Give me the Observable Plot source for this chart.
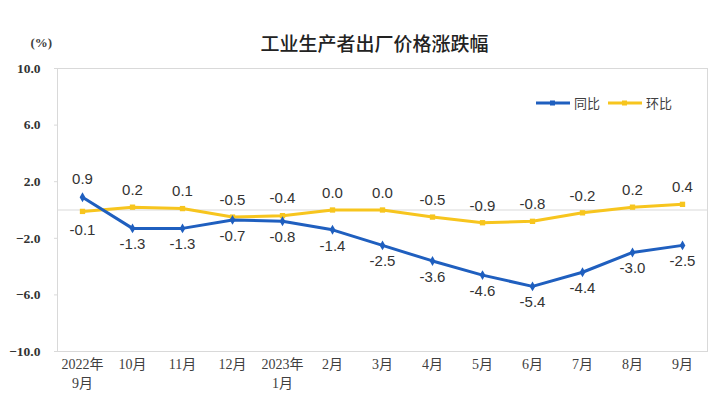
<!DOCTYPE html>
<html>
<head>
<meta charset="utf-8">
<script src="https://cdn.jsdelivr.net/npm/d3@7"></script>
<script src="https://cdn.jsdelivr.net/npm/@observablehq/plot@0.6"></script>
<style>
  html, body { margin: 0; padding: 0; background: #fff; }
  #wrap { position: relative; width: 712px; height: 413px; }
  #legend { position: absolute; left: 536px; top: 93px; font-family: "Noto Sans CJK SC", sans-serif; font-size: 13px; color: #404040; display: flex; align-items: center; }
  #legend span.item { display: flex; align-items: center; margin-right: 8px; }
  #legend svg { margin-right: 4px; }
</style>
</head>
<body>
<div id="wrap">
  <div id="legend"></div>
</div>
<script>
const months = ["2022年\n9月", "10月", "11月", "12月", "2023年\n1月", "2月", "3月", "4月", "5月", "6月", "7月", "8月", "9月"];
const yoy = [0.9, -1.3, -1.3, -0.7, -0.8, -1.4, -2.5, -3.6, -4.6, -5.4, -4.4, -3.0, -2.5];
const mom = [-0.1, 0.2, 0.1, -0.5, -0.4, 0.0, 0.0, -0.5, -0.9, -0.8, -0.2, 0.2, 0.4];
const yTicks = [10, 6, 2, -2, -6, -10];
const seriesNames = ["同比", "环比"];
const colors = ["#1f5fbf", "#f7c51e"];

const yoyData = months.map((m, i) => ({month: m, value: yoy[i]}));
const momData = months.map((m, i) => ({month: m, value: mom[i]}));
const yoyAbove = yoyData.filter((d, i) => i === 0);
const yoyBelow = yoyData.filter((d, i) => i !== 0);
const momBelow = momData.filter((d, i) => i === 0);
const momAbove = momData.filter((d, i) => i !== 0);

const labelFont = "Liberation Sans, Arial, sans-serif";
const tickFont = "Liberation Serif, Noto Sans CJK SC, serif";

const chart = Plot.plot({
  width: 712,
  height: 413,
  marginTop: 68,
  marginBottom: 62,
  marginLeft: 57,
  marginRight: 5,
  style: {background: "#fff", overflow: "visible"},
  x: {type: "point", domain: months, padding: 0.5},
  y: {domain: [-10, 10]},
  marks: [
    Plot.frame({stroke: "#d9d9d9"}),
    Plot.ruleY([0], {stroke: "#d9d9d9"}),
    Plot.axisY({ticks: yTicks, tickFormat: d3.format(".1f"), tickSize: 3, tickPadding: 14, stroke: "#d9d9d9", fill: "#333", fontSize: 13.5, fontFamily: tickFont, fontWeight: 600, label: null}),
    Plot.axisX({tickSize: 0, tickPadding: 5, fill: "#404040", fontSize: 14, fontFamily: tickFont, lineHeight: 1.3, label: null}),
    Plot.line(momData, {x: "month", y: "value", stroke: colors[1], strokeWidth: 3}),
    Plot.dot(momData, {x: "month", y: "value", fill: colors[1], r: 3, symbol: "square"}),
    Plot.line(yoyData, {x: "month", y: "value", stroke: colors[0], strokeWidth: 3}),
    Plot.dot(yoyData, {x: "month", y: "value", fill: colors[0], r: 3, symbol: "diamond"}),
    Plot.text(yoyAbove, {x: "month", y: "value", text: d => d.value.toFixed(1), dy: -18, fontSize: 15, fontFamily: labelFont, fill: "#333"}),
    Plot.text(yoyBelow, {x: "month", y: "value", text: d => d.value.toFixed(1), dy: 16, fontSize: 15, fontFamily: labelFont, fill: "#333"}),
    Plot.text(momAbove, {x: "month", y: "value", text: d => d.value.toFixed(1), dy: -17, fontSize: 15, fontFamily: labelFont, fill: "#333"}),
    Plot.text(momBelow, {x: "month", y: "value", text: d => d.value.toFixed(1), dy: 19, fontSize: 15, fontFamily: labelFont, fill: "#333"}),
    Plot.text(["工业生产者出厂价格涨跌幅"], {frameAnchor: "top", dx: -8, dy: -31, fontSize: 19, fontWeight: 500, fontFamily: "Noto Sans CJK SC, sans-serif", fill: "#222"}),
    Plot.text(["(%)"], {frameAnchor: "top-left", dx: -27, dy: -31, fontSize: 13, fontFamily: tickFont, fontWeight: 600, fill: "#404040"})
  ]
});
document.getElementById("wrap").prepend(chart);

const legend = document.getElementById("legend");
seriesNames.forEach((name, i) => {
  const item = document.createElement("span");
  item.className = "item";
  item.innerHTML = `<svg width="34" height="8"><line x1="0" y1="4" x2="34" y2="4" stroke="${colors[i]}" stroke-width="3"/><rect x="14" y="1.5" width="5" height="5" fill="${colors[i]}"/></svg>${name}`;
  legend.appendChild(item);
});
</script>
</body>
</html>
